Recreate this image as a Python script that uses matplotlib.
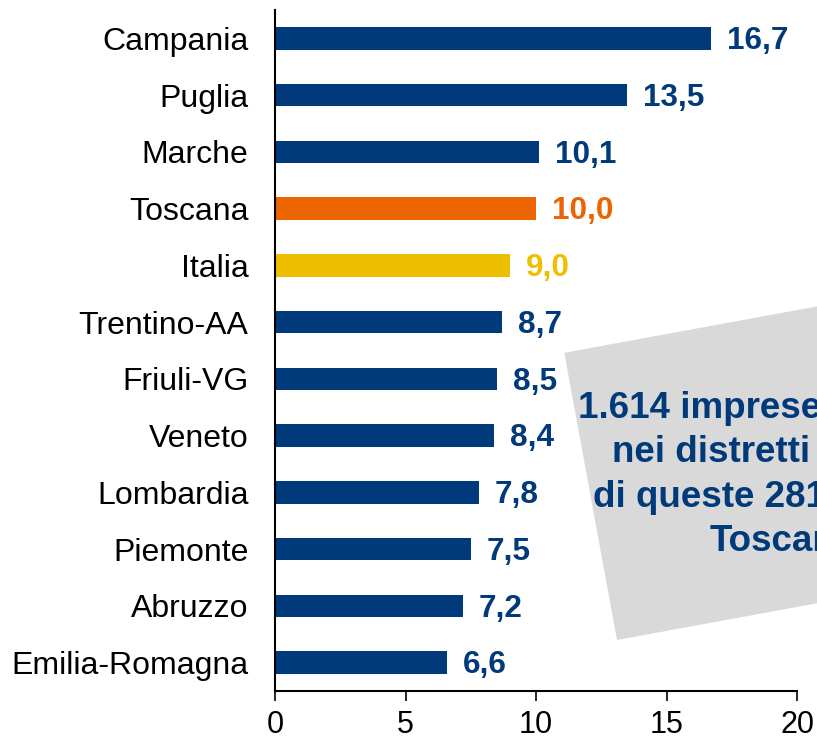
import matplotlib
matplotlib.use("Agg")
import matplotlib.pyplot as plt
from matplotlib.patches import Rectangle
from matplotlib.transforms import IdentityTransform

plt.rcParams['font.family'] = ['Liberation Sans', 'DejaVu Sans']

regions = ["Campania", "Puglia", "Marche", "Toscana", "Italia", "Trentino-AA",
           "Friuli-VG", "Veneto", "Lombardia", "Piemonte", "Abruzzo", "Emilia-Romagna"]
values = [16.7, 13.5, 10.1, 10.0, 9.0, 8.7, 8.5, 8.4, 7.8, 7.5, 7.2, 6.6]

navy = "#003A7A"
orange = "#EC6400"
yellow = "#EDBF00"
colors = [orange if r == "Toscana" else yellow if r == "Italia" else navy for r in regions]

note_lines = ["1.614 imprese", "nei distretti", "di queste 281", "Toscana"]
# left edge / baseline of each line in pixels (figure is cropped on the right)
note_x = [578, 612, 593, 710]
note_y = [418, 462, 507, 551]

fig = plt.figure(figsize=(8.17, 7.41), dpi=100)
ax = fig.add_axes([275 / 817, 1 - 691 / 741, 522 / 817, 681 / 741])

ypos = list(range(len(regions)))
ax.barh(ypos, values, height=0.4, color=colors)
ax.set_ylim(len(regions) - 0.5, -0.5)
ax.set_xlim(0, 20)
ax.set_xticks([0, 5, 10, 15, 20])
ax.set_yticks(ypos)
ax.set_yticklabels(regions, fontsize=23)
ax.tick_params(axis='y', length=0, pad=19)
ax.tick_params(axis='x', length=7, width=1.2, labelsize=22, pad=6.5)

for s in ["top", "right"]:
    ax.spines[s].set_visible(False)
ax.spines["left"].set_linewidth(1.5)
ax.spines["bottom"].set_linewidth(1.5)

for i, (v, c) in enumerate(zip(values, colors)):
    ax.annotate(f"{v:.1f}".replace(".", ","), xy=(v, i), xytext=(11.5, -7.7),
                textcoords="offset points", va="baseline", ha="left",
                fontsize=22.7, fontweight="bold", color=c)

# rotated grey note box, in pixel coordinates
box = Rectangle((617, 101), 400, 292, angle=10.4, rotation_point=(617, 101),
                facecolor="#D9D9D9", edgecolor="none", transform=IdentityTransform())
fig.add_artist(box)

for line, x, y in zip(note_lines, note_x, note_y):
    fig.text(x / 817, 1 - y / 741, line, ha="left", va="baseline",
             fontsize=26.5, fontweight="bold", color=navy)

fig.savefig("out.png", dpi=100)
